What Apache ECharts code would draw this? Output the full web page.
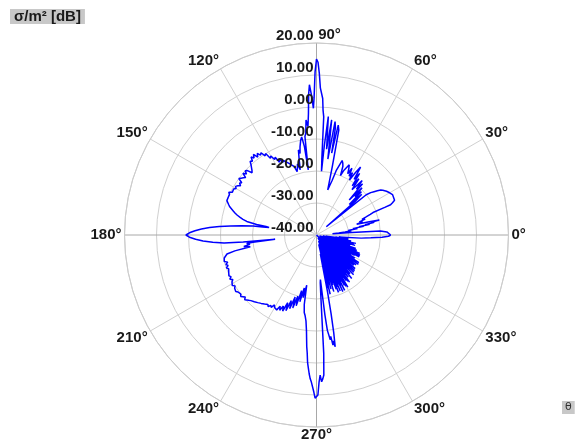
<!DOCTYPE html>
<html><head><meta charset="utf-8">
<script src="https://cdn.jsdelivr.net/npm/echarts@6/dist/echarts.min.js"></script>
<style>html,body{margin:0;padding:0;background:#fff}#c{width:587px;height:442px}</style>
</head><body><div id="c"></div>
<script>
// radial ticks (dB) and angular ticks (deg)
const radiusTicks = [-40, -30, -20, -10, 0, 10, 20];
const angleTicks = [0, 30, 60, 90, 120, 150, 180, 210, 240, 270, 300, 330];
// RCS pattern: [theta (deg), sigma (dB)]
const q1 = [[0,-16.8],[0.8,-16.4],[1.5,-16.8],[2.5,-18],[3.5,-20],[4,-29],[4.5,-35],[5,-33],[6,-31],[7,-29],[8,-30],[9,-27],[10,-28.5],[10.5,-25],[11,-26.5],[11.5,-23],[12,-24.5],[12.5,-21.5],[13,-22.5],[13.4,-19.8],[14,-23],[15,-27],[16,-25],[17,-26],[18,-24],[19,-25],[20,-23.5],[21,-22],[21.7,-21],[22,-17],[22.2,-15],[23,-14.2],[24,-13.3],[25,-13.5],[26,-13.2],[27,-13.4],[28,-13.1],[29,-13.3],[30,-13.6],[31,-14],[32,-14.2],[33,-14.5],[34,-15],[35,-15.5],[36,-16.5],[37,-17.5],[38,-18.5],[39,-20],[39.5,-30],
[40,-36],[41,-24],[42,-21],[43,-26],[44,-20.5],[45,-23],[46,-19.5],[47,-25],[48,-18.5],[49,-21],[50,-17.8],[51,-20.4],[52,-22],[53,-18],[54,-21],[55,-16.5],[56,-19],[57,-14.7],[58,-17],[59,-20],[60,-17.5],[61,-19],[62,-16.4],[63,-18.5],[64,-17],[65,-15.8],[66,-15.5],[67,-18],[68,-20],[69,-17],[70,-16],[71,-15.4],[72,-16],[73,-19],[74,-22.3],[75,-24],[76,-25.5],[77,-18],[78,-6.5],[78.8,-5],[79.5,-14],[80,-6],[80.7,-4.1],[81.5,-16],[82.5,-3.7],[83.3,-13],[84.3,-2.8],[85,-12],[85.5,-20],[86,-16],[86.5,-3],[87,-0.9],[87.4,2.7],[88,3.2],[88.5,6],[89,10.5],[89.5,14],[90,15]];
const q2 = [[90.5,11],[91,3],[91.4,-0.4],[92,3.5],[92.7,7],[93.2,4],[93.8,-2],[94.5,-6],[95.2,-3.9],[96,-8],[96.7,-9],[97.2,-19.5],[97.8,-12],[98.6,-9],[99.5,-10],[100.6,-12],[101.4,-14],[102,-12.8],[103,-16],[104,-19],[105,-17],[106,-18.3],[107,-19.3],[108,-17.5],[109,-18],[110,-16.5],[111,-17],[112,-15.5],[113,-16],[114,-14.5],[115,-15],[116,-13.5],[117,-14.5],[118,-12.5],[119,-13],[120,-11.5],[121,-12],[122,-10],[123,-10.5],[124,-9],[125,-9.5],[126,-8.5],[127,-9.5],[128,-8],[129,-9],[130,-8.2],[131,-9.5],[132,-9],[133,-10],[134,-10.2],[135,-11.5],[136,-12],[137,-10.5],[138,-10],[139,-11],[140,-10],[141,-11.5],[142,-11],[143,-10.5],[144,-10],[145,-11.5],[146,-11],[147,-11.7],[148,-11],[149,-10.5],[150,-11],[151,-10.4],[152,-10],[153,-10.5],[154,-9.5],[155,-10],[156,-9.6],[157,-10],[158,-10.3],[159,-10],[160,-10.2],[161,-11],[162,-11.5],[163,-12],[164,-13],[165,-13.7],[166,-14.5],[167,-15.5],[168,-16.5],[169,-17.8],[170,-21],[170.5,-24],[171,-25],[171.5,-23],[172,-20],[173,-16.5],[174,-13],[175,-9.5],[176,-6.5],[177,-4],[178,-2],[179,-0.3],[180,0.8]];
const q3 = [[181,-0.3],[182,-2.2],[183,-4.5],[184,-7.5],[185,-11],[185.5,-17],[186,-27],[186.5,-20],[187,-18],[188,-19],[189,-17],[190,-19],[191,-14],[192,-11.4],[193,-10.8],[194,-10.3],[195,-10.5],[196,-10],[197,-11],[198,-10.2],[199,-10.8],[200,-10],[201,-10.6],[202,-11],[203,-10.2],[204,-10.5],[205,-9.8],[206,-10.3],[207,-9.6],[208,-10.4],[209,-9.8],[210,-10],[211,-9.3],[212,-10],[213,-9.5],[214,-9.8],[215,-9.2],[216,-9.7],[217,-9.4],[218,-10],[219,-9.5],[220,-9.8],[221,-10.5],[222,-9.8],[223,-10],[224,-10.6],[225,-11],[226,-10.8],[227,-11.5],[228,-11.3],[229,-12],[230,-11.8],[231,-12.5],[232,-12.2],[233,-13],[234,-12.7],[235,-13.5],[236,-13],[237,-13.8],[238,-13.3],[239,-14.5],[240,-13.8],[241,-14.2],[242,-13.5],[243,-15],[244,-13.8],[245,-15.5],[246,-14],[247,-17],[248,-14.5],[249,-18],[250,-15.5],[251,-19.5],[252,-16],[253,-20],[254,-17],[255,-22],[256,-18.5],[257,-23],[258,-20],[259,-24],[260,-18],[261,-15.5],[262,-14.5],[263,-13],[264,-10],[265,-5],[265.5,-3],[266,0],[266.5,1.7],[267,3.5],[267.5,5],[268,6],[268.5,6.5],[269,9],[269.5,11],[270,11.6]];
const q4 = [[270.5,10],[271,6],[271.5,3.8],[272,5.9],[272.5,5],[273,3.8],[273.5,-3],[274,-20],[274.5,-25],[275,-26],[275.5,-22],[276,-15],[276.5,-10],[277,-9.5],[277.5,-7],[278,-8],[278.5,-5.2],[279,-6.5],[279.5,-4.6],[280,-9],[280.5,-15],
[281,-22],[281.5,-34],[282,-23],[282.5,-30],[283,-21],[283.5,-37],[284,-24],[284.5,-31],[285,-22.5],[285.5,-35],[286,-25],[286.5,-29],[287,-21.5],[287.5,-36],[288,-23.5],[288.5,-32],[289,-24],[289.5,-38],[290,-22],[290.5,-30],
[291,-20.8],[291.5,-34],[292,-22.5],[292.5,-29],[293,-21],[293.5,-36],[294,-23],[294.5,-31],[295,-20.5],[295.5,-37],[296,-22.5],[296.5,-30],[297,-20.6],[297.5,-35],[298,-23.5],[298.5,-39],[299,-22],[299.5,-31],[300,-21.5],[300.5,-36],
[301,-21],[301.5,-29],[302,-24],[302.5,-34],[303,-23],[303.5,-38],[304,-22.5],[304.5,-30],[305,-22],[305.5,-35],[306,-24.5],[306.5,-31],[307,-23.5],[307.5,-37],[308,-25],[308.5,-30],[309,-22.5],[309.5,-34],[310,-24],[310.5,-39],
[311,-24],[311.5,-31],[312,-25.5],[312.5,-36],[313,-23],[313.5,-30],[314,-25],[314.5,-35],[315,-23.5],[315.5,-40],[316,-25.5],[316.5,-32],[317,-23.7],[317.5,-36],[318,-26],[318.5,-31],[319,-24],[319.5,-38],[320,-26.5],[320.5,-33],
[321,-25],[321.5,-30],[322,-27],[322.5,-37],[323,-24.5],[323.5,-32],[324,-27],[324.5,-39],[325,-24],[325.5,-31],[326,-26.5],[326.5,-35],[327,-24.2],[327.5,-33],[328,-27],[328.5,-38],[329,-26],[329.5,-32],[330,-27.5],[330.5,-36],
[331,-28.3],[331.5,-33],[332,-26.5],[332.5,-38],[333,-25],[333.5,-32],[334,-27.5],[334.5,-35],[335,-25],[335.5,-31],[336,-28],[336.5,-39],[337,-25.3],[337.5,-33],[338,-28],[338.5,-36],[339,-26.5],[339.5,-32],[340,-29],[340.5,-37],
[341,-27],[341.5,-33],[342,-29.5],[342.5,-38],[343,-29],[343.5,-34],[344,-30],[344.5,-39],[345,-27.5],[345.5,-34],[346,-30],[346.5,-37],[347,-28],[347.5,-33],[348,-27.4],[348.5,-36],[349,-30],[349.5,-34],[350,-29],[350.5,-38],
[351,-31],[351.5,-35],[352,-30],[352.5,-37],[353,-31.5],[353.5,-34],[354,-31],[354.5,-30],[355,-33],[356,-26],[357,-23],[358,-19.5],[359,-17.5],[360,-16.8]];

const FONT = "'Liberation Sans', Arial, sans-serif";
const data = [].concat(q1, q2, q3, q4).map(p => [p[1], p[0]]);

const chart = echarts.init(document.getElementById('c'));
chart.setOption({
  animation: false,
  backgroundColor: '#ffffff',
  title: [
    {text: 'σ/m² [dB]', left: 10, top: 9, backgroundColor: '#c8c8c8', padding: [0, 4, 0, 4],
     textStyle: {fontFamily: FONT, fontWeight: 'bold', fontSize: 15, lineHeight: 15, color: '#1a1a1a'}},
    {text: 'θ', left: 562, top: 401, backgroundColor: '#c8c8c8', padding: [1, 3, 1, 3],
     textStyle: {fontFamily: "'DejaVu Sans', sans-serif", fontWeight: 'normal', fontSize: 11, color: '#333'}}
  ],
  polar: [{center: [316.5, 235], radius: 192}, {center: [316.5, 235], radius: 192}],
  angleAxis: [
    {polarIndex: 0, type: 'value', min: 0, max: 360, interval: 30, startAngle: 0, clockwise: false,
     axisLine: {show: true, lineStyle: {color: '#cccccc', width: 1}},
     axisTick: {show: false},
     splitLine: {show: true, lineStyle: {color: ['#a8a8a8', '#d0d0d0', '#d0d0d0'], width: 1}},
     axisLabel: {
       margin: 3, fontFamily: FONT, fontWeight: 'bold', fontSize: 15, lineHeight: 10, color: '#1a1a1a',
       formatter: function (v) {
         if (angleTicks.indexOf(v) < 0) return '';
         if (v === 90) return '{s|90°}';
         return v + '°';
       },
       rich: {s: {padding: [0, 0, 0, 26], fontFamily: FONT, fontWeight: 'bold', fontSize: 15, lineHeight: 10, color: '#1a1a1a'}}
     }},
    {polarIndex: 1, type: 'value', min: 0, max: 360, startAngle: 90, show: false}
  ],
  radiusAxis: [
    {polarIndex: 0, type: 'value', min: radiusTicks[0], max: radiusTicks[radiusTicks.length - 1], interval: 10,
     axisLine: {show: false}, axisTick: {show: false}, axisLabel: {show: false},
     splitLine: {show: true, lineStyle: {color: '#d0d0d0', width: 1}}},
    {polarIndex: 1, type: 'value', min: radiusTicks[0], max: radiusTicks[radiusTicks.length - 1], interval: 10,
     axisLine: {show: false}, axisTick: {show: false}, splitLine: {show: false}, z: 10,
     axisLabel: {show: true, margin: 3, verticalAlign: 'bottom', fontFamily: FONT, fontWeight: 'bold', fontSize: 15, color: '#1a1a1a',
       formatter: function (v) { return v.toFixed(2); }}}
  ],
  series: [{
    type: 'line', coordinateSystem: 'polar', polarIndex: 0, data: data,
    symbol: 'none', showSymbol: false, lineStyle: {color: '#0000ff', width: 1.5}, z: 5
  }]
});
</script></body></html>
